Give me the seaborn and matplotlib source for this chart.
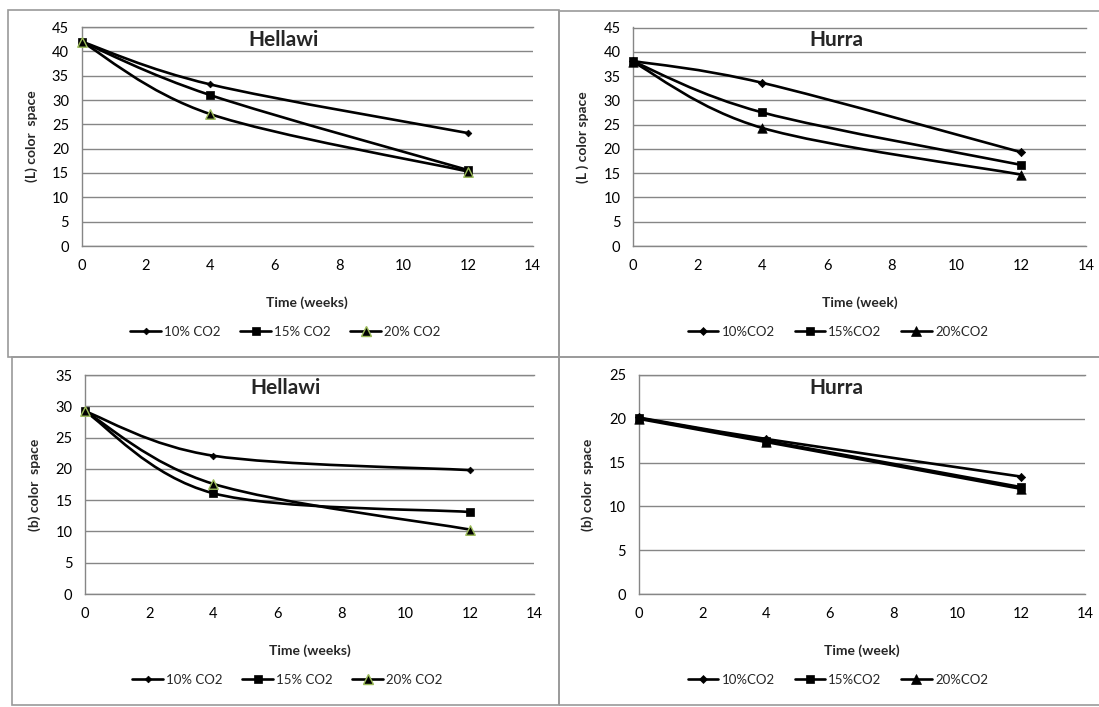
"""
Colour change of Hellawi and Hurra dates under CO2 storage - L and b colour space
"""

import numpy as np
import matplotlib
matplotlib.use("Agg")
import matplotlib.pyplot as plt
from matplotlib.path import Path
from matplotlib.patches import PathPatch, Rectangle
from matplotlib.lines import Line2D
import seaborn as sns

# -- Data ------------------------------------------------------------------
weeks = [0, 4, 12]

hel_L_10 = [42.0, 33.2, 23.2]
hel_L_15 = [42.0, 31.0, 15.6]
hel_L_20 = [42.0, 27.1, 15.3]

hur_L_10 = [38.1, 33.6, 19.3]
hur_L_15 = [38.0, 27.5, 16.7]
hur_L_20 = [37.9, 24.3, 14.7]

hel_b_10 = [29.2, 22.1, 19.8]
hel_b_15 = [29.2, 16.1, 13.1]
hel_b_20 = [29.2, 17.6, 10.3]

hur_b_10 = [20.15, 17.7, 13.4]
hur_b_15 = [20.1, 17.5, 12.2]
hur_b_20 = [20.0, 17.35, 12.0]

labels_space = ["10% CO2", "15% CO2", "20% CO2"]
labels_tight = ["10%CO2", "15%CO2", "20%CO2"]

# -- Layout (pixels of the 1099x707 picture) -------------------------------
W, H = 1099, 707
GRID = "#868686"
BORDER = "#9a9a9a"
TRI_EDGE = "#9BBB59"

sns.set_theme(style="white")
plt.rcParams["font.family"] = ["Lato", "DejaVu Sans"]

fig = plt.figure(figsize=(W / 100, H / 100), dpi=100)
fig.patch.set_facecolor("white")


def fig_xy(px, py):
    return px / W, 1 - py / H


def smooth_path(xs, ys):
    """Excel style smoothed line: cubic Bezier through the points."""
    pts = np.column_stack([xs, ys]).astype(float)
    n = len(pts)
    verts = [pts[0]]
    codes = [Path.MOVETO]
    for i in range(n - 1):
        p0 = pts[max(i - 1, 0)]
        p1 = pts[i]
        p2 = pts[i + 1]
        p3 = pts[min(i + 2, n - 1)]
        verts += [p1 + (p2 - p0) / 6, p2 - (p3 - p1) / 6, p2]
        codes += [Path.CURVE4] * 3
    return Path(verts, codes)


def panel(box, plot, ymax, series, title, xlabel, ylabel, names, tri_edge, dia_ms):
    bx0, by0, bx1, by1 = box
    x0, x1, ytop, ybot = plot
    # chart-area border
    fig.add_artist(Rectangle(fig_xy(bx0, by1), (bx1 - bx0) / W, (by1 - by0) / H,
                             transform=fig.transFigure, fill=False,
                             edgecolor=BORDER, lw=1.2))
    ax = fig.add_axes([x0 / W, 1 - ybot / H, (x1 - x0) / W, (ybot - ytop) / H])
    ax.set_facecolor("none")

    specs = [("D", dia_ms, "black", "black"),
             ("s", 6.0, "black", "black"),
             ("^", 6.8, "black", tri_edge)]
    handles = []
    for ys, (mk, ms, fc, ec) in zip(series, specs):
        ax.add_patch(PathPatch(smooth_path(weeks, ys), fill=False, edgecolor="black",
                               lw=1.9, zorder=3))
        sns.scatterplot(x=weeks, y=ys, marker=mk, s=ms ** 2, color=fc,
                        edgecolor=ec, linewidth=1.0 if ec != fc else 0.5,
                        ax=ax, zorder=4, clip_on=False, legend=False)
        handles.append(Line2D([], [], color="black", lw=1.9, marker=mk, markersize=ms,
                              markerfacecolor=fc, markeredgecolor=ec,
                              markeredgewidth=1.0 if ec != fc else 0.5))

    ax.set_xlim(0, 14)
    ax.set_ylim(0, ymax)
    ax.set_xticks(range(0, 15, 2))
    ax.set_yticks(range(0, ymax + 1, 5))
    ax.yaxis.grid(True, color=GRID, lw=1.0)
    ax.xaxis.grid(False)
    for side in ["left", "bottom", "top"]:
        ax.spines[side].set_visible(True)
        ax.spines[side].set_color(GRID)
        ax.spines[side].set_linewidth(1.0)
    ax.spines["right"].set_visible(False)
    ax.tick_params(axis="both", direction="out", length=4, width=1.0, color=GRID,
                   labelsize=10.5, labelcolor="black")
    ax.tick_params(axis="x", pad=5)
    ax.tick_params(axis="y", pad=5)

    ax.set_xlabel(xlabel, fontsize=10, fontweight="bold")
    ax.set_ylabel(ylabel, fontsize=10, fontweight="bold")
    ax.xaxis.set_label_coords(0.5, -(50) / (ybot - ytop))
    ax.yaxis.set_label_coords(-(44) / (x1 - x0), 0.5)

    cx = (bx0 + bx1) / 2 if bx1 < W else 836
    tx, ty = fig_xy(cx, ytop + 13)
    fig.text(tx, ty, title, ha="center", va="center", fontsize=15, fontweight="bold")

    lx, ly = fig_xy(cx + 2, ybot + 86)
    fig.legend(handles, names, loc="center", bbox_to_anchor=(lx, ly), ncol=3,
               frameon=False, fontsize=9.5, handlelength=2.3, handletextpad=0.25,
               columnspacing=1.5, borderaxespad=0)
    return ax


panel((8, 10, 559, 357), (81.5, 532.5, 27, 246), 45,
      [hel_L_10, hel_L_15, hel_L_20], "Hellawi", "Time (weeks)", "(L) color  space",
      labels_space, TRI_EDGE, 3.4)
panel((559, 11, 1105, 357), (633, 1086, 27.5, 246), 45,
      [hur_L_10, hur_L_15, hur_L_20], "Hurra", "Time (week)", "(L ) color space",
      labels_tight, "black", 4.2)
panel((12, 357, 559, 705), (85, 534, 375, 594), 35,
      [hel_b_10, hel_b_15, hel_b_20], "Hellawi", "Time (weeks)", "(b) color  space",
      labels_space, TRI_EDGE, 3.4)
panel((559, 357, 1105, 705), (638.5, 1085, 375, 594), 25,
      [hur_b_10, hur_b_15, hur_b_20], "Hurra", "Time (week)", "(b) color  space",
      labels_tight, "black", 4.2)

fig.savefig("out.png", dpi=100, facecolor="white")
plt.close(fig)
